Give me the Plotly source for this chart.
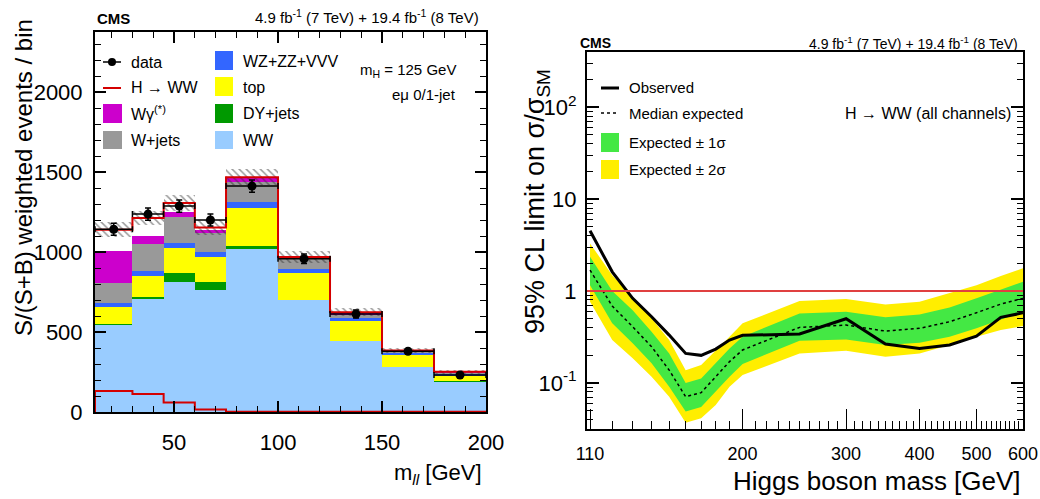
import numpy as np
import plotly.graph_objects as go

FIG_W, FIG_H = 1040, 499
FONT = "Liberation Sans"

# ---------------- left panel: S/(S+B) weighted m_ll distribution ----------------
mll_edges  = [12, 30, 45, 60, 75, 100, 125, 150, 175, 200]
ww_bkg     = [544, 704, 815, 762, 1017, 700, 444, 283, 190]
dy_bkg     = [6, 17, 52, 50, 20, 3, 2, 1, 1]
top_bkg    = [108, 131, 156, 159, 236, 168, 123, 72, 40]
vv_bkg     = [21, 31, 31, 29, 42, 25, 18, 15, 11]
wjets_bkg  = [129, 167, 163, 121, 125, 58, 25, 6, 4]
wgamma_bkg = [200, 50, 31, 16, 25, 13, 11, 6, 4]
higgs_sig  = [131, 112, 59, 16, 2, 2, 1, 1, 1]
data_obs   = [1142, 1237, 1287, 1200, 1412, 958, 612, 379, 231]
data_err   = [38, 38, 38, 38, 38, 30, 25, 18, 15]
bkg_unc    = [47, 45, 50, 45, 50, 35, 25, 15, 12]
mll_ticks  = [50, 100, 150, 200]
evt_ticks  = [0, 500, 1000, 1500, 2000]

# ---------------- right panel: 95% CL limits ----------------
higgs_mass = [110, 120, 130, 140, 150, 160, 170, 180, 190, 200, 250, 300, 350, 400, 450, 500, 550, 600]
observed   = [4.52, 1.62, 0.833, 0.526, 0.332, 0.21, 0.20, 0.234, 0.293, 0.33, 0.341, 0.50, 0.265, 0.238, 0.259, 0.324, 0.518, 0.58]
expected   = [1.69, 0.687, 0.41, 0.248, 0.138, 0.071, 0.0785, 0.117, 0.171, 0.229, 0.403, 0.427, 0.367, 0.393, 0.464, 0.581, 0.722, 0.833]
exp1_lo    = [1.16, 0.446, 0.27, 0.164, 0.091, 0.049, 0.055, 0.08, 0.117, 0.161, 0.288, 0.298, 0.259, 0.274, 0.319, 0.393, 0.484, 0.596]
exp1_hi    = [2.36, 1.0, 0.62, 0.361, 0.21, 0.10, 0.112, 0.164, 0.238, 0.319, 0.572, 0.596, 0.518, 0.557, 0.664, 0.833, 1.025, 1.26]
exp2_lo    = [0.766, 0.293, 0.186, 0.117, 0.071, 0.037, 0.0413, 0.0577, 0.091, 0.122, 0.21, 0.224, 0.193, 0.21, 0.259, 0.319, 0.377, 0.416]
exp2_hi    = [3.3, 1.49, 0.867, 0.505, 0.293, 0.138, 0.157, 0.229, 0.319, 0.446, 0.778, 0.819, 0.716, 0.766, 0.944, 1.16, 1.46, 1.77]
sm_level   = 1.0
mass_ticks = [110, 200, 300, 400, 500, 600]
limit_ticks = [0.1, 1, 10, 100]
limit_labels = ["10<sup>-1</sup>", "1", "10", "10<sup>2</sup>"]

# colours
C_WW, C_DY, C_TOP, C_VV, C_WJ, C_WG = "#99ccff", "#009900", "#ffff00", "#3366ff", "#999999", "#cc00cc"
C_SIG = "#d40000"
C_Y, C_G = "#ffee00", "#44e844"

edges = np.array(mll_edges, float)
centers = 0.5 * (edges[1:] + edges[:-1])
widths = edges[1:] - edges[:-1]

fig = go.Figure()

layers = [("WW", ww_bkg, C_WW), ("DY+jets", dy_bkg, C_DY), ("top", top_bkg, C_TOP),
          ("WZ+ZZ+VVV", vv_bkg, C_VV), ("W+jets", wjets_bkg, C_WJ), ("Wγ(*)", wgamma_bkg, C_WG)]
base = np.zeros(len(centers))
for name, vals, col in layers:
    v = np.array(vals, float)
    fig.add_trace(go.Bar(x=centers, y=v, base=base.copy(), width=widths, name=name,
                         marker=dict(color=col, line=dict(width=0)), showlegend=False,
                         xaxis="x", yaxis="y"))
    base = base + v
sig = np.array(higgs_sig, float)
total = base + sig

# stacked signal outline (total)
fig.add_trace(go.Scatter(x=edges, y=list(total) + [total[-1]], mode="lines", line_shape="hv",
                         line=dict(color=C_SIG, width=2), showlegend=False, xaxis="x", yaxis="y"))
# signal alone
fig.add_trace(go.Scatter(x=[edges[0]] + list(edges), y=[0] + list(sig) + [sig[-1]], mode="lines",
                         line_shape="hv", line=dict(color=C_SIG, width=2), showlegend=False,
                         xaxis="x", yaxis="y"))

# hatched uncertainty band
unc = np.array(bkg_unc, float)
fig.add_trace(go.Bar(x=centers, y=2 * unc, base=total - unc, width=widths, showlegend=False,
                     marker=dict(color="rgba(0,0,0,0)", line=dict(width=0),
                                 pattern=dict(shape="\\", fgcolor="#333333", bgcolor="rgba(0,0,0,0)",
                                              size=5, solidity=0.3, fillmode="overlay")),
                     xaxis="x", yaxis="y"))

# data
fig.add_trace(go.Scatter(x=centers, y=data_obs, mode="markers", showlegend=False,
                         marker=dict(color="black", size=9),
                         error_y=dict(type="data", array=data_err, color="black", thickness=1.5, width=3),
                         error_x=dict(type="data", array=list(widths / 2), color="black", thickness=1.5, width=3),
                         xaxis="x", yaxis="y"))

# ---------------- right panel traces ----------------
m = list(higgs_mass)
fig.add_trace(go.Scatter(x=m + m[::-1], y=exp2_hi + exp2_lo[::-1], fill="toself", fillcolor=C_Y,
                         line=dict(width=0), mode="lines", showlegend=False, xaxis="x2", yaxis="y2"))
fig.add_trace(go.Scatter(x=m + m[::-1], y=exp1_hi + exp1_lo[::-1], fill="toself", fillcolor=C_G,
                         line=dict(width=0), mode="lines", showlegend=False, xaxis="x2", yaxis="y2"))
fig.add_trace(go.Scatter(x=m, y=expected, mode="lines", line=dict(color="black", width=1.5, dash="3px,3px"),
                         showlegend=False, xaxis="x2", yaxis="y2"))
fig.add_trace(go.Scatter(x=m, y=observed, mode="lines", line=dict(color="black", width=3),
                         showlegend=False, xaxis="x2", yaxis="y2"))

# ---------------- helpers ----------------
def px(x):
    return x / FIG_W

def py(y):
    return 1 - y / FIG_H

annotations = []
shapes = []

def ann(text, x, y, size, xanchor="left", yanchor="middle", angle=0):
    annotations.append(dict(text=text, x=px(x), y=py(y), xref="paper", yref="paper",
                            xanchor=xanchor, yanchor=yanchor, showarrow=False, textangle=angle,
                            font=dict(family=FONT, size=size, color="black")))

def box(x0, y0, x1, y1, color):
    shapes.append(dict(type="rect", xref="paper", yref="paper", x0=px(x0), x1=px(x1),
                       y0=py(y1), y1=py(y0), fillcolor=color, line=dict(width=0)))

def hline(x0, x1, y, color, width, dash="solid"):
    shapes.append(dict(type="line", xref="paper", yref="paper", x0=px(x0), x1=px(x1),
                       y0=py(y), y1=py(y), line=dict(color=color, width=width, dash=dash)))

# SM reference line
shapes.append(dict(type="line", xref="x2 domain", yref="y2", x0=0, x1=1, y0=sm_level, y1=sm_level,
                   line=dict(color="#e04040", width=2), layer="above"))

# left legend
hline(103, 121, 62, "black", 1.5)
shapes.append(dict(type="circle", xref="paper", yref="paper", x0=px(108), x1=px(116), y0=py(66), y1=py(58),
                   fillcolor="black", line=dict(width=0)))
ann("data", 129, 62, 16)
hline(103, 121, 88, C_SIG, 2)
ann("H → WW", 129, 88, 16)
box(103, 104, 122, 123, C_WG)
ann("Wγ<sup>(*)</sup>", 129, 113, 16)
box(103, 131, 122, 149, C_WJ)
ann("W+jets", 129, 140, 16)
box(215, 51, 233, 70, C_VV)
ann("WZ+ZZ+VVV", 241, 61, 16)
box(215, 77, 233, 96, C_TOP)
ann("top", 241, 87, 16)
box(215, 104, 233, 123, C_DY)
ann("DY+jets", 241, 113, 16)
box(215, 131, 233, 149, C_WW)
ann("WW", 241, 140, 16)
ann("m<sub>H</sub> = 125 GeV", 458, 70, 15, xanchor="right")
ann("eμ 0/1-jet", 458, 95, 15, xanchor="right")

# right legend
hline(601, 619, 88, "black", 3)
ann("Observed", 627, 88, 15)
hline(601, 619, 113, "black", 1.5, dash="3px,3px")
ann("Median expected", 627, 113, 15)
box(601, 133, 619, 152, C_G)
ann("Expected ± 1σ", 627, 143, 15)
box(601, 160, 619, 179, C_Y)
ann("Expected ± 2σ", 627, 169, 15)
ann("H → WW (all channels)", 1013, 113, 16, xanchor="right")

# headers
ann("<b>CMS</b>", 95, 18, 15)
ann("4.9 fb<sup>-1</sup> (7 TeV) + 19.4 fb<sup>-1</sup> (8 TeV)", 481, 16, 15, xanchor="right")
ann("<b>CMS</b>", 578, 43, 14)
ann("4.9 fb<sup>-1</sup> (7 TeV) + 19.4 fb<sup>-1</sup> (8 TeV)", 1020, 43, 14, xanchor="right")

# axis titles
ann("S/(S+B) weighted events / bin", 23, 178, 24, xanchor="center", angle=-90)
ann("m<sub><i>ll</i></sub> [GeV]", 484, 474, 22, xanchor="right")
ann("95% CL limit on σ/σ<sub>SM</sub>", 537, 202, 27, xanchor="center", angle=-90)
ann("Higgs boson mass [GeV]", 1023, 498, 26, xanchor="right", yanchor="bottom")

axis_common = dict(showline=True, linecolor="black", linewidth=2, ticks="inside", tickcolor="black",
                   showgrid=False, zeroline=False, automargin=False,
                   tickfont=dict(family=FONT, size=22, color="black"))

minor_mass = [v for v in range(120, 600, 10) if v not in mass_ticks]
minor_lim = ([k * 0.01 for k in range(4, 10)] + [k * 0.1 for k in range(2, 10)] +
             [k * 1.0 for k in range(2, 10)] + [k * 10.0 for k in range(2, 10)] + [200.0, 300.0])

fig.update_layout(
    width=FIG_W, height=FIG_H, margin=dict(l=0, r=0, t=0, b=0, pad=0, autoexpand=False),
    paper_bgcolor="white", plot_bgcolor="white", barmode="overlay", bargap=0,
    showlegend=False, font=dict(family=FONT, color="black"),
    xaxis=dict(domain=[px(95), px(486)], range=[12, 200], anchor="y", tickvals=mll_ticks,
               ticklen=11, tickwidth=1.5, mirror="allticks", ticklabelstandoff=10,
               minor=dict(dtick=10, tick0=0, ticklen=6, tickwidth=1, ticks="inside", tickcolor="black"),
               **axis_common),
    yaxis=dict(domain=[1 - 412 / FIG_H, 1 - 32 / FIG_H], range=[0, 2375], anchor="x", tickvals=evt_ticks,
               ticklen=11, tickwidth=1.5, mirror="allticks", ticklabelstandoff=6,
               minor=dict(dtick=100, tick0=0, ticklen=6, tickwidth=1, ticks="inside", tickcolor="black"),
               **axis_common),
    xaxis2=dict(domain=[px(587), px(1023)], type="log", range=[np.log10(108.7), np.log10(600)],
                anchor="y2", tickvals=mass_ticks, ticktext=[str(v) for v in mass_ticks],
                ticklen=20, tickwidth=1, mirror=True, ticklabelstandoff=7,
                minor=dict(tickvals=minor_mass, ticklen=8, tickwidth=1, ticks="inside", tickcolor="black"),
                **{**axis_common, "tickfont": dict(family=FONT, size=18, color="black")}),
    yaxis2=dict(domain=[1 - 429 / FIG_H, 1 - 52 / FIG_H], type="log", range=[-1.5, 2.6], anchor="x2",
                tickvals=limit_ticks, ticktext=limit_labels, ticklen=12, tickwidth=1.5,
                mirror="allticks", ticklabelstandoff=4,
                minor=dict(tickvals=minor_lim, ticklen=6, tickwidth=1, ticks="inside", tickcolor="black"),
                **axis_common),
    annotations=annotations, shapes=shapes,
)

fig.write_html("out.html")
